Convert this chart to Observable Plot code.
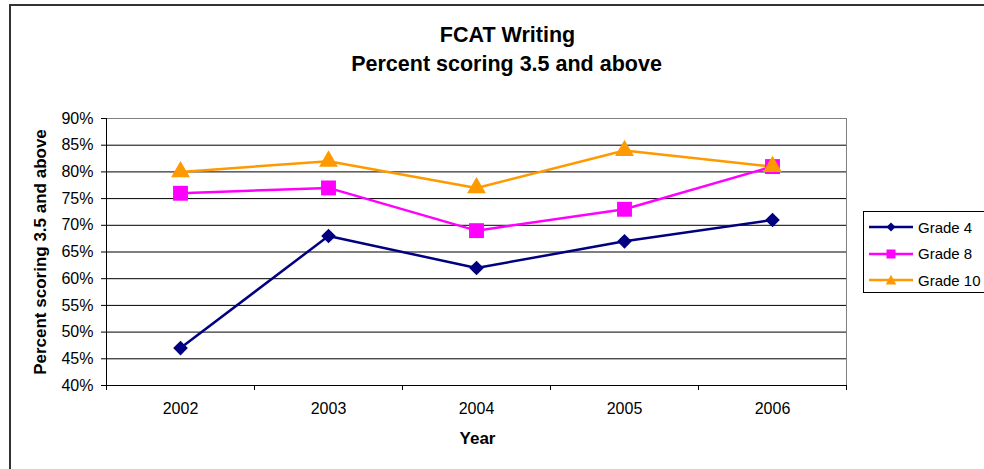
<!DOCTYPE html>
<html>
<head>
<meta charset="utf-8">
<script src="https://cdn.jsdelivr.net/npm/d3@7"></script>
<script src="https://cdn.jsdelivr.net/npm/@observablehq/plot@0.6"></script>
<style>
  html, body { margin: 0; padding: 0; background: #fff; overflow: hidden; }
  #wrap { position: relative; width: 984px; height: 469px; font-family: "Liberation Sans", Arial, sans-serif; }
  #border { position: absolute; left: 9px; top: 4px; width: 990px; height: 480px; border-left: 2px solid #333; border-top: 2px solid #333; box-sizing: border-box; pointer-events: none; }
  #legend { position: absolute; left: 863px; top: 211px; width: 140px; height: 82px; border: 1px solid #000; box-sizing: border-box; background: #fff; }
  .item { position: absolute; left: 5px; height: 20px; display: flex; align-items: center; font-size: 15px; color: #000; white-space: nowrap; }
  .item svg { margin-right: 5px; }
</style>
</head>
<body>
<div id="wrap">
  <div id="chart"></div>
  <div id="border"></div>
  <div id="legend"></div>
</div>
<script>
const years = [2002, 2003, 2004, 2005, 2006];
const grade4 = [47, 68, 62, 67, 71];
const grade8 = [76, 77, 69, 73, 81];
const grade10 = [80, 82, 77, 84, 81];
const seriesNames = ["Grade 4", "Grade 8", "Grade 10"];
const seriesColors = ["#000080", "#FF00FF", "#FF9900"];
const seriesSymbols = ["diamond2", "square", "triangle"];
const yTicks = [40, 45, 50, 55, 60, 65, 70, 75, 80, 85, 90];
const titleLines = ["FCAT Writing", "Percent scoring 3.5 and above"];
const yLabel = "Percent scoring 3.5 and above";
const xLabel = "Year";

const seriesValues = [grade4, grade8, grade10];
const rows = [];
seriesNames.forEach((name, s) => {
  years.forEach((yr, i) => rows.push({series: name, year: yr, value: seriesValues[s][i]}));
});
const boundaries = years.map(y => y - 0.5).concat([years[years.length - 1] + 0.5]);

const symbolRadius = [6.6, 8.4, 7.0];

const dotMarks = seriesNames.map((name, s) =>
  Plot.dot(rows.filter(d => d.series === name), {
    x: "year", y: "value", symbol: () => seriesSymbols[s], fill: seriesColors[s], stroke: null, r: symbolRadius[s]
  })
);

const chart = Plot.plot({
  width: 984,
  height: 469,
  marginLeft: 106,
  marginRight: 138,
  marginTop: 118,
  marginBottom: 84,
  style: {fontFamily: "Liberation Sans, Arial, sans-serif", background: "transparent", color: "#000"},
  x: {type: "linear", domain: [boundaries[0], boundaries[boundaries.length - 1]]},
  y: {domain: [yTicks[0], yTicks[yTicks.length - 1]]},
  color: {domain: seriesNames, range: seriesColors},
  symbol: {type: "identity"},
  marks: [
    Plot.ruleY(yTicks, {stroke: "#000", strokeWidth: 1}),
    Plot.ruleY([yTicks[yTicks.length - 1]], {stroke: "#808080", strokeWidth: 1}),
    Plot.ruleX([boundaries[boundaries.length - 1]], {stroke: "#808080", strokeWidth: 1}),
    Plot.ruleX([boundaries[0]], {stroke: "#000", strokeWidth: 1}),
    Plot.ruleY([yTicks[0]], {stroke: "#000", strokeWidth: 1}),
    Plot.axisY({ticks: yTicks, tickFormat: d => d + "%", tickSize: 5, tickPadding: 8, label: null, fontSize: 16, stroke: "#000"}),
    Plot.axisX({ticks: boundaries, tickFormat: () => "", tickSize: 5, label: null, stroke: "#000"}),
    Plot.axisX({ticks: years, tickFormat: d => String(d), tickSize: 0, tickPadding: 17, label: null, fontSize: 16}),
    Plot.line(rows, {x: "year", y: "value", z: "series", stroke: "series", strokeWidth: 2.5}),
    ...dotMarks,
    Plot.text([titleLines[0]], {frameAnchor: "top", lineAnchor: "middle", dx: 31, dy: -83, fontSize: 21.5, fontWeight: "bold"}),
    Plot.text([titleLines[1]], {frameAnchor: "top", lineAnchor: "middle", dx: 30, dy: -54, fontSize: 21.5, fontWeight: "bold"}),
    Plot.text([yLabel], {frameAnchor: "left", textAnchor: "middle", lineAnchor: "middle", dx: -66, rotate: -90, fontSize: 17, fontWeight: "bold"}),
    Plot.text([xLabel], {frameAnchor: "bottom", lineAnchor: "middle", dx: 1, dy: 53, fontSize: 17, fontWeight: "bold"})
  ]
});
document.getElementById("chart").appendChild(chart);

// Legend
const legend = document.getElementById("legend");
const symPaths = {
  "diamond2": "M0,-6L6,0L0,6L-6,0Z",
  "square": "M-6,-6H6V6H-6Z",
  "triangle": "M0,-7L7,6H-7Z"
};
seriesNames.forEach((name, i) => {
  const div = document.createElement("div");
  div.className = "item";
  div.style.top = (5 + i * 26.5) + "px";
  div.innerHTML = `<svg width="44" height="20" viewBox="-22 -10 44 20"><line x1="-22" x2="22" y1="0" y2="0" stroke="${seriesColors[i]}" stroke-width="2.5"/><path d="${symPaths[seriesSymbols[i]]}" fill="${seriesColors[i]}" transform="scale(0.75)"/></svg><span>${name}</span>`;
  legend.appendChild(div);
});
</script>
</body>
</html>
